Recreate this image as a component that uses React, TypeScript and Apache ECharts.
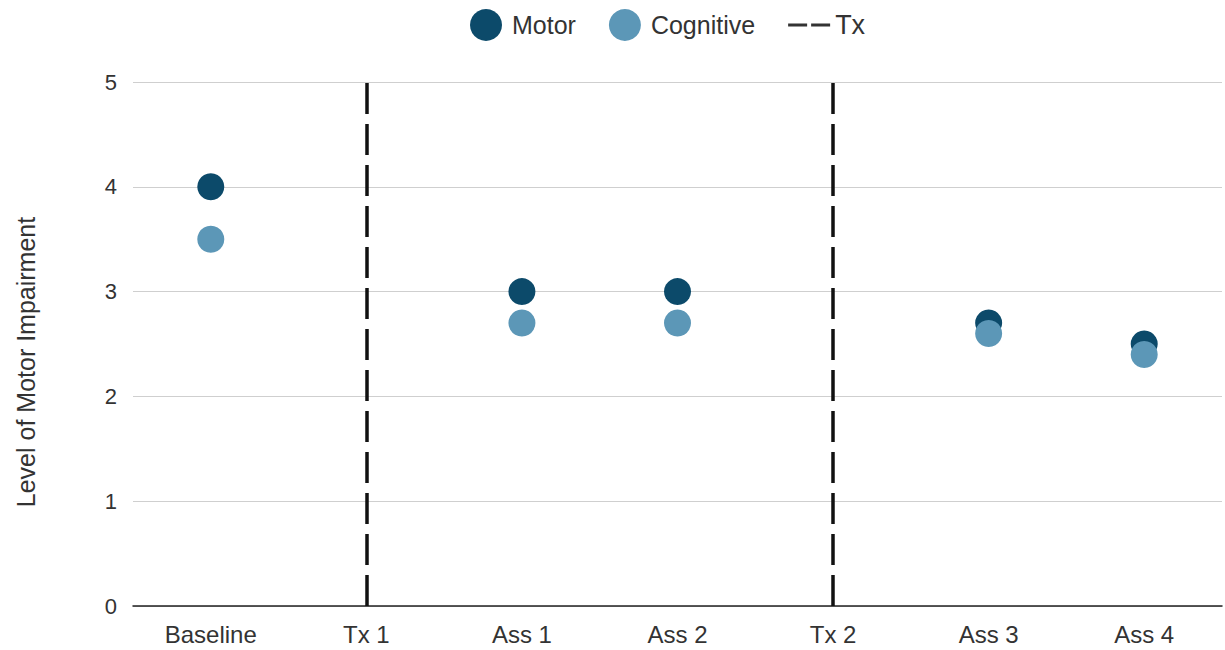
import React, { useEffect, useRef } from "react";
import * as echarts from "echarts";

const categories = ["Baseline", "Tx 1", "Ass 1", "Ass 2", "Tx 2", "Ass 3", "Ass 4"];
const motor: (number | null)[] = [4, null, 3, 3, null, 2.7, 2.5];
const cognitive: (number | null)[] = [3.5, null, 2.7, 2.7, null, 2.6, 2.4];
const txLines = ["Tx 1", "Tx 2"];
const yTicks = [0, 1, 2, 3, 4, 5];

const FONT = "'Liberation Sans', Arial, sans-serif";

export default function App() {
  const ref = useRef<HTMLDivElement>(null);
  useEffect(() => {
    if (!ref.current) return;
    const chart = echarts.init(ref.current, undefined, { renderer: "svg" });
    chart.setOption({
      animation: false,
      backgroundColor: "#ffffff",
      textStyle: { fontFamily: FONT },
      legend: {
        top: 9,
        left: 470,
        itemGap: 33,
        itemWidth: 42,
        itemHeight: 32,
        padding: 0,
        textStyle: { fontSize: 25, color: "#333", fontFamily: FONT },
        data: [
          { name: "Motor", icon: "circle" },
          { name: "Cognitive", icon: "circle" },
          {
            name: "Tx",
            icon: "path://M0,0h19v3h-19z M23,0h19v3h-19z",
            itemStyle: { color: "#333" },
            textStyle: { fontSize: 27, color: "#333" },
          },
        ],
      },
      grid: { left: 133, right: 3, top: 82, bottom: 44 },
      graphic: [
        {
          type: "text",
          x: 26,
          y: 362,
          rotation: Math.PI / 2,
          style: {
            text: "Level of Motor Impairment",
            fontSize: 25,
            fill: "#333",
            fontFamily: FONT,
            align: "center",
            verticalAlign: "middle",
          },
        },
      ],
      xAxis: {
        type: "category",
        data: categories,
        boundaryGap: true,
        axisLine: { lineStyle: { color: "#222", width: 1.5 } },
        axisTick: { show: false },
        axisLabel: { fontSize: 24, color: "#333", margin: 16, fontFamily: FONT },
      },
      yAxis: {
        type: "value",
        min: yTicks[0],
        max: yTicks[yTicks.length - 1],
        interval: 1,
        axisLine: { show: false },
        axisTick: { show: false },
        axisLabel: { fontSize: 22, color: "#333", margin: 16, fontFamily: FONT },
        splitLine: { lineStyle: { color: "#cfcfcf", width: 1.2 } },
      },
      series: [
        {
          name: "Motor",
          type: "scatter",
          data: motor,
          symbolSize: 27,
          itemStyle: { color: "#0c4a6a", opacity: 1 },
        },
        {
          name: "Cognitive",
          type: "scatter",
          data: cognitive,
          symbolSize: 27,
          itemStyle: { color: "#5c97b7", opacity: 1 },
        },
        {
          name: "Tx",
          type: "line",
          data: [],
          itemStyle: { color: "#333" },
          lineStyle: { color: "#333", type: "dashed" },
          markLine: {
            silent: true,
            symbol: "none",
            label: { show: false },
            lineStyle: { color: "#111", width: 3.5, type: [31, 10] },
            data: txLines.map((t) => ({ xAxis: t })),
          },
        },
      ],
    });
    return () => chart.dispose();
  }, []);
  return (
    <div
      ref={ref}
      style={{ position: "absolute", left: 0, top: 0, width: 1225, height: 650 }}
    />
  );
}
